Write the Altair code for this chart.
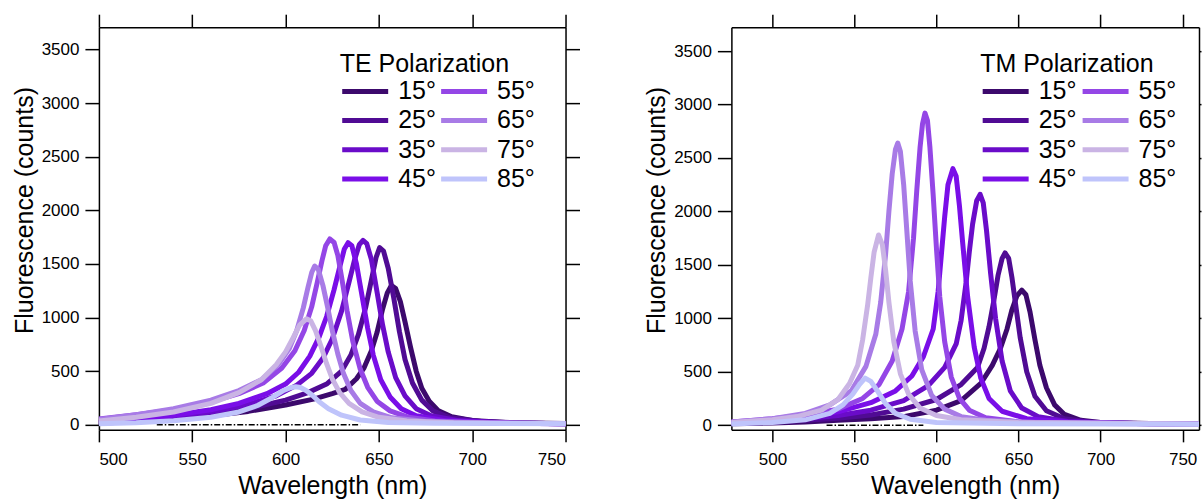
import altair as alt
import pandas as pd

FONT = "Liberation Sans"

angles = ["15°", "25°", "35°", "45°", "55°", "65°", "75°", "85°"]
colors = ["#3c096c", "#500b94", "#6a0cc9", "#7a0ee8", "#9446e6", "#a87be6", "#cab4e4", "#bfc4fb"]

x_ticks = [500, 550, 600, 650, 700, 750]
y_ticks = [0, 500, 1000, 1500, 2000, 2500, 3000, 3500]

# ---- TE polarization spectra: [wavelength nm, counts]
te_15 = [[500,15],[520,30],[540,55],[560,85],[580,125],[600,185],[615,240],[625,290],[632,330],[638,430],[642,530],[646,690],[649,860],[652,1080],[654.5,1230],[656.7,1300],[659,1270],[661.5,1150],[664,960],[667,720],[670,500],[673,340],[677,220],[682,130],[689,75],[700,40],[720,20],[750,12]]
te_25 = [[500,20],[520,40],[540,65],[560,100],[580,150],[600,230],[612,300],[622,380],[630,500],[635,650],[639,840],[643,1100],[646,1350],[648.5,1560],[650.4,1652],[652.5,1620],[655,1460],[658,1180],[661,870],[664,610],[668,390],[673,230],[679,130],[688,65],[705,30],[730,15],[750,10]]
te_35 = [[500,25],[520,45],[540,75],[560,120],[580,190],[595,270],[606,370],[614,480],[620,620],[625,800],[630,1060],[634,1330],[637,1540],[639.5,1680],[641.5,1720],[643.5,1690],[646,1540],[649,1240],[652,930],[655,680],[659,440],[664,270],[670,150],[678,85],[692,40],[720,18],[750,10]]
te_45 = [[500,30],[520,55],[540,90],[560,140],[575,200],[590,290],[600,380],[607,490],[613,640],[618,820],[622,1010],[626,1260],[629,1470],[631.5,1640],[633.5,1698],[635.5,1670],[638,1500],[641,1200],[644,900],[647,650],[651,420],[656,260],[662,150],[670,85],[685,40],[720,15],[750,10]]
te_55 = [[500,55],[520,95],[540,140],[560,215],[575,290],[588,390],[598,530],[605,690],[610,880],[614,1100],[617,1330],[619.5,1530],[621.5,1670],[623.7,1733],[626,1700],[628,1580],[630,1380],[633,1060],[636,780],[640,520],[644,350],[649,220],[656,130],[666,70],[680,35],[710,18],[750,10]]
te_65 = [[500,50],[520,95],[540,150],[560,230],[575,320],[587,420],[596,560],[602,710],[606,880],[609.5,1090],[612,1280],[614,1420],[615.6,1481],[617.5,1450],[620,1300],[622.5,1100],[625,880],[628,660],[631,480],[635,320],[640,200],[647,120],[657,65],[675,30],[710,15],[750,10]]
te_75 = [[500,35],[520,70],[540,120],[560,200],[575,300],[587,420],[595,560],[600,680],[604,810],[607.5,930],[611.2,988],[613.5,970],[616,880],[619,730],[622,570],[625,430],[629,300],[634,200],[641,120],[650,70],[665,35],[690,20],[750,10]]
te_85 = [[500,10],[520,20],[540,38],[560,70],[575,120],[585,180],[593,255],[599,320],[603,348],[605.5,355],[608,348],[611,320],[614,280],[618,215],[623,150],[630,90],[640,45],[655,22],[680,14],[750,10]]

# ---- TM polarization spectra: [wavelength nm, counts]
tm_15 = [[475,12],[500,20],[520,30],[540,45],[560,60],[580,80],[600,140],[615,230],[627,390],[634,560],[639,720],[643,900],[646,1080],[649,1210],[652,1263],[654.5,1220],[657,1060],[660,800],[663,560],[667,350],[672,190],[678,100],[688,45],[700,25],[730,15],[760,10]]
tm_25 = [[475,15],[500,28],[520,45],[540,65],[560,95],[580,150],[600,240],[615,380],[625,540],[629,720],[632,920],[635,1170],[637.5,1400],[640,1560],[641.8,1612],[644,1560],[646,1380],[648.5,1100],[651,820],[655,500],[660,270],[667,135],[678,60],[695,25],[730,14],[760,10]]
tm_35 = [[475,20],[500,40],[520,60],[540,90],[560,140],[580,230],[595,370],[605,540],[612,760],[615,980],[618,1330],[620,1620],[622,1880],[624.5,2100],[626.6,2160],[628.5,2080],[630.5,1820],[633,1420],[636,1000],[640,600],[645,320],[652,160],[662,80],[680,35],[720,15],[760,10]]
tm_45 = [[475,25],[500,50],[520,80],[540,125],[560,210],[575,320],[585,460],[592,640],[598,900],[601,1250],[603,1600],[605,1950],[607,2250],[610,2400],[612,2330],[614,2050],[616,1700],[619,1200],[623,730],[627,440],[632,250],[640,130],[655,60],[680,30],[720,15],[760,10]]
tm_55 = [[475,30],[500,60],[520,95],[540,150],[555,250],[565,380],[573,600],[579,900],[583,1250],[586,1750],[588,2200],[590,2600],[591.5,2820],[593,2920],[594.5,2850],[596,2600],[598,2150],[600,1650],[602,1200],[605,780],[609,450],[614,250],[620,140],[630,70],[650,30],[700,15],[760,10]]
tm_65 = [[475,30],[500,60],[520,110],[535,190],[548,320],[557,550],[563,850],[566,1150],[569,1600],[571,2000],[573,2350],[575,2580],[576.4,2640],[578,2560],[580,2250],[582,1800],[584,1350],[587,880],[591,520],[597,280],[605,150],[615,80],[630,45],[660,25],[760,10]]
tm_75 = [[475,25],[500,50],[515,80],[530,140],[540,240],[547,390],[552,560],[555,800],[558,1120],[560,1380],[562,1620],[564.7,1780],[567,1690],[569,1450],[571,1150],[574,780],[578,480],[583,290],[590,160],[600,90],[615,50],[650,25],[760,10]]
tm_85 = [[475,10],[500,25],[520,50],[535,110],[543,190],[549,290],[553,380],[556.5,440],[560,410],[564,320],[569,200],[575,110],[584,55],[600,25],[650,12],[760,8]]

# dash-dot reference line at zero
te_baseline = [[531, 0], [640, 0]]
tm_baseline = [[533, 0], [592, 0]]

te_x_domain = [500, 750]
tm_x_domain = [475, 760]
te_y_domain = [-47, 3708]
tm_y_domain = [-44, 3724]


def panel(series, baseline, xdom, ydom, title, lx, ly, w, h, right_tick, col_pad):
    rows = []
    for ang, pts in zip(angles, series):
        for x, y in pts:
            rows.append({"wl": x, "counts": y, "angle": ang})
    df = pd.DataFrame(rows)
    bdf = pd.DataFrame(baseline, columns=["wl", "counts"])
    xs = alt.Scale(domain=xdom, nice=False, zero=False)
    ys = alt.Scale(domain=ydom, nice=False, zero=False)

    base = alt.Chart(bdf).mark_line(
        color="black", strokeWidth=1.5, strokeDash=[6, 2, 1.5, 2], clip=True
    ).encode(
        x=alt.X("wl:Q", scale=xs, axis=alt.Axis(orient="top", values=x_ticks, labels=False,
                                                title=None, tickSize=13)),
        y=alt.Y("counts:Q", scale=ys, axis=alt.Axis(orient="right", values=y_ticks, labels=False,
                                                    title=None, tickSize=right_tick)),
    )

    cscale = alt.Scale(domain=angles, range=colors)
    lines = alt.Chart(df).mark_line(
        strokeWidth=5, strokeJoin="round", strokeCap="round", clip=True
    ).encode(
        x=alt.X("wl:Q", scale=xs,
                axis=alt.Axis(orient="bottom", values=x_ticks, title="Wavelength (nm)",
                              tickSize=12, labelPadding=10, titlePadding=6, format="d")),
        y=alt.Y("counts:Q", scale=ys,
                axis=alt.Axis(orient="left", values=y_ticks, title="Fluorescence (counts)",
                              tickSize=14, labelPadding=6, titlePadding=4, format="d",
                              titleY=183)),
        color=alt.Color("angle:N", scale=cscale,
                        legend=alt.Legend(title=title, orient="none", legendX=lx, legendY=ly,
                                          columns=2, symbolType="stroke", symbolSize=2116,
                                          symbolStrokeWidth=5, labelOffset=7.5,
                                          clipHeight=25,
                                          columnPadding=col_pad, rowPadding=3.3, titlePadding=1.5,
                                          padding=0, labelFont=FONT, labelFontSize=25,
                                          titleFont=FONT, titleFontSize=25,
                                          titleFontWeight="normal", titleLimit=400,
                                          labelColor="black", titleColor="black")),
        detail="angle:N",
    )
    return alt.layer(base, lines).resolve_axis(x="independent", y="independent").properties(
        width=w, height=h)


left = panel([te_15, te_25, te_35, te_45, te_55, te_65, te_75, te_85], te_baseline,
             te_x_domain, te_y_domain, "TE Polarization", 241, 25, 467, 403, 14, 2)
right = panel([tm_15, tm_25, tm_35, tm_45, tm_55, tm_65, tm_75, tm_85], tm_baseline,
              tm_x_domain, tm_y_domain, "TM Polarization", 249, 25, 468, 403, 2, 3)

chart = alt.hconcat(left, right, spacing=64).resolve_scale(color="independent").properties(
    padding={"left": 12, "top": 13, "right": 0, "bottom": 0},
    background="white",
).configure_axis(
    labelFont=FONT, titleFont=FONT, labelFontSize=17, titleFontSize=25,
    titleFontWeight="normal", labelColor="black", titleColor="black",
    tickColor="black", domainColor="black", tickWidth=1.5, domainWidth=1.5, grid=False,
).configure_view(stroke=None)

chart.save("out.html", embed_options={"renderer": "svg", "actions": False})
